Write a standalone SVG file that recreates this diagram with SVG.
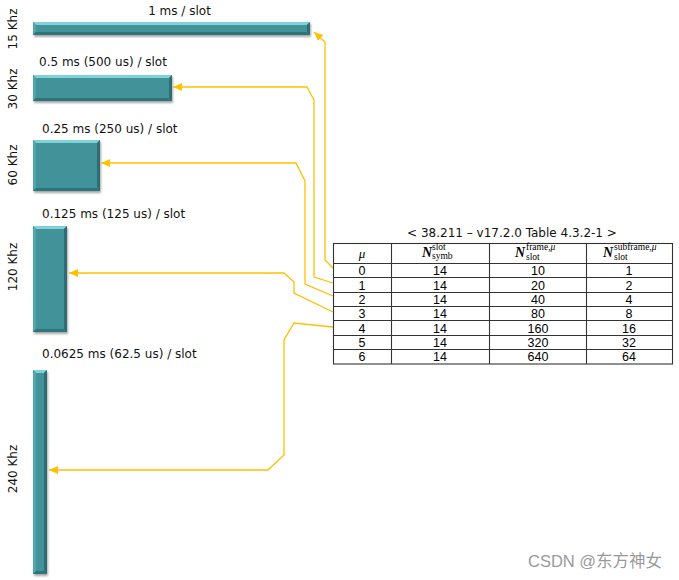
<svg xmlns="http://www.w3.org/2000/svg" width="679" height="580" viewBox="0 0 679 580">
<defs>
<filter id="sh" x="-20%" y="-20%" width="140%" height="140%">
<feDropShadow dx="1" dy="2" stdDeviation="1.2" flood-color="#000" flood-opacity="0.35"/>
</filter>
<marker id="ah" markerUnits="userSpaceOnUse" markerWidth="10" markerHeight="10" refX="9" refY="4" orient="auto">
<path d="M0,0 L9,4 L0,8 Z" fill="#FFC000"/>
</marker>
</defs>
<style>
.lbl{font-family:"DejaVu Sans",Verdana,sans-serif;font-size:12px;fill:#111}
.rot{font-family:"DejaVu Sans",Verdana,sans-serif;font-size:12px;fill:#111;text-anchor:middle}
.body{fill:#42929A}
.bt{fill:#80D2D8}
.bl{fill:#52A5AC}
.br{fill:#2D6D72}
.bb{fill:#2F7479}
.conn{fill:none;stroke:#FFC000;stroke-width:1.3;marker-end:url(#ah)}
.grid{stroke:#333;stroke-width:1.1;fill:none}
.num{font-family:"Liberation Sans",Arial,sans-serif;font-size:12.5px;fill:#000;text-anchor:middle}
.N{font-family:"Liberation Serif","Times New Roman",serif;font-size:14px;font-style:italic;font-weight:bold}
.sup{font-family:"Liberation Serif","Times New Roman",serif;font-size:9.5px}
.title{font-family:"DejaVu Sans",Verdana,sans-serif;font-size:12px;fill:#111;text-anchor:middle}
</style>
<rect width="679" height="580" fill="#fff"/>

<g id="bar15">
<g filter="url(#sh)">
<rect class="body" x="33" y="22" width="277" height="13"/>
<polygon class="bt" points="33,22 310,22 307,25 36,25"/>
<polygon class="bl" points="33,22 36,25 36,32 33,35"/>
<polygon class="br" points="310,22 310,35 307,32 307,25"/>
<polygon class="bb" points="33,35 36,32 307,32 310,35"/>
</g>
<text class="lbl" x="179.5" y="15" text-anchor="middle">1 ms / slot</text>
<text class="rot" transform="translate(17,29) rotate(-90)">15 Khz</text>
</g>

<g id="bar30">
<g filter="url(#sh)">
<rect class="body" x="33" y="75" width="139" height="26"/>
<polygon class="bt" points="33,75 172,75 169,78 36,78"/>
<polygon class="bl" points="33,75 36,78 36,98 33,101"/>
<polygon class="br" points="172,75 172,101 169,98 169,78"/>
<polygon class="bb" points="33,101 36,98 169,98 172,101"/>
</g>
<text class="lbl" x="39" y="66">0.5 ms (500 us) / slot</text>
<text class="rot" transform="translate(17,89) rotate(-90)">30 Khz</text>
</g>

<g id="bar60">
<g filter="url(#sh)">
<rect class="body" x="33" y="140" width="67" height="51"/>
<polygon class="bt" points="33,140 100,140 97,143 36,143"/>
<polygon class="bl" points="33,140 36,143 36,188 33,191"/>
<polygon class="br" points="100,140 100,191 97,188 97,143"/>
<polygon class="bb" points="33,191 36,188 97,188 100,191"/>
</g>
<text class="lbl" x="42" y="133">0.25 ms (250 us) / slot</text>
<text class="rot" transform="translate(17,165) rotate(-90)">60 Khz</text>
</g>

<g id="bar120">
<g filter="url(#sh)">
<rect class="body" x="33" y="226" width="34" height="106"/>
<polygon class="bt" points="33,226 67,226 64,229 36,229"/>
<polygon class="bl" points="33,226 36,229 36,329 33,332"/>
<polygon class="br" points="67,226 67,332 64,329 64,229"/>
<polygon class="bb" points="33,332 36,329 64,329 67,332"/>
</g>
<text class="lbl" x="42" y="218">0.125 ms (125 us) / slot</text>
<text class="rot" transform="translate(17,267) rotate(-90)">120 Khz</text>
</g>

<g id="bar240">
<g filter="url(#sh)">
<rect class="body" x="33" y="370" width="14" height="204"/>
<polygon class="bt" points="33,370 47,370 44,373 36,373"/>
<polygon class="bl" points="33,370 36,373 36,571 33,574"/>
<polygon class="br" points="47,370 47,574 44,571 44,373"/>
<polygon class="bb" points="33,574 36,571 44,571 47,574"/>
</g>
<text class="lbl" x="42" y="358">0.0625 ms (62.5 us) / slot</text>
<text class="rot" transform="translate(17,469) rotate(-90)">240 Khz</text>
</g>

<g id="connectors">
<path class="conn" d="M333,268 L325,260 L325,42 L314,32"/>
<path class="conn" d="M333,283 L314,277 L314,100 L307,87 L173,87"/>
<path class="conn" d="M333,296 L305,284 L305,181 L296,163 L101,163"/>
<path class="conn" d="M333,312 L294,293 L294,282 L284,273 L69,273"/>
<path class="conn" d="M333,327 L294,323 L284,340 L284,455 L268,470 L49,470"/>
</g>

<g id="table">
<text class="title" x="512" y="237">&lt; 38.211 – v17.2.0 Table 4.3.2-1 &gt;</text>
<rect class="grid" x="333.5" y="243.5" width="339" height="120.5" fill="#fff"/>
<g class="grid">
<line x1="391.5" y1="243.5" x2="391.5" y2="364"/>
<line x1="489.5" y1="243.5" x2="489.5" y2="364"/>
<line x1="586.5" y1="243.5" x2="586.5" y2="364"/>
<line x1="333.5" y1="263.5" x2="672.5" y2="263.5"/>
<line x1="333.5" y1="277.5" x2="672.5" y2="277.5"/>
<line x1="333.5" y1="292.5" x2="672.5" y2="292.5"/>
<line x1="333.5" y1="306.5" x2="672.5" y2="306.5"/>
<line x1="333.5" y1="320.5" x2="672.5" y2="320.5"/>
<line x1="333.5" y1="335.5" x2="672.5" y2="335.5"/>
<line x1="333.5" y1="349.5" x2="672.5" y2="349.5"/>
</g>
<text x="362" y="258" font-family="'Liberation Serif',serif" font-size="13" font-style="italic" text-anchor="middle">μ</text>
<text class="N" x="422" y="257">N</text>
<text class="sup" x="432" y="250">slot</text>
<text class="sup" x="432" y="259">symb</text>
<text class="N" x="515" y="257">N</text>
<text class="sup" x="526" y="250">frame,<tspan font-style="italic">μ</tspan></text>
<text class="sup" x="526" y="260">slot</text>
<text class="N" x="603" y="257">N</text>
<text class="sup" x="614" y="250">subframe,<tspan font-style="italic">μ</tspan></text>
<text class="sup" x="614" y="260">slot</text>

<text class="num" x="362" y="275">0</text><text class="num" x="440" y="275">14</text><text class="num" x="538" y="275">10</text><text class="num" x="629" y="275">1</text>
<text class="num" x="362" y="289.5">1</text><text class="num" x="440" y="289.5">14</text><text class="num" x="538" y="289.5">20</text><text class="num" x="629" y="289.5">2</text>
<text class="num" x="362" y="304">2</text><text class="num" x="440" y="304">14</text><text class="num" x="538" y="304">40</text><text class="num" x="629" y="304">4</text>
<text class="num" x="362" y="318">3</text><text class="num" x="440" y="318">14</text><text class="num" x="538" y="318">80</text><text class="num" x="629" y="318">8</text>
<text class="num" x="362" y="332.5">4</text><text class="num" x="440" y="332.5">14</text><text class="num" x="538" y="332.5">160</text><text class="num" x="629" y="332.5">16</text>
<text class="num" x="362" y="347">5</text><text class="num" x="440" y="347">14</text><text class="num" x="538" y="347">320</text><text class="num" x="629" y="347">32</text>
<text class="num" x="362" y="361">6</text><text class="num" x="440" y="361">14</text><text class="num" x="538" y="361">640</text><text class="num" x="629" y="361">64</text>
</g>

<text x="528" y="567" font-family="'Liberation Sans','Noto Sans CJK SC',sans-serif" font-size="16.5" fill="#999">CSDN @东方神女</text>
</svg>
